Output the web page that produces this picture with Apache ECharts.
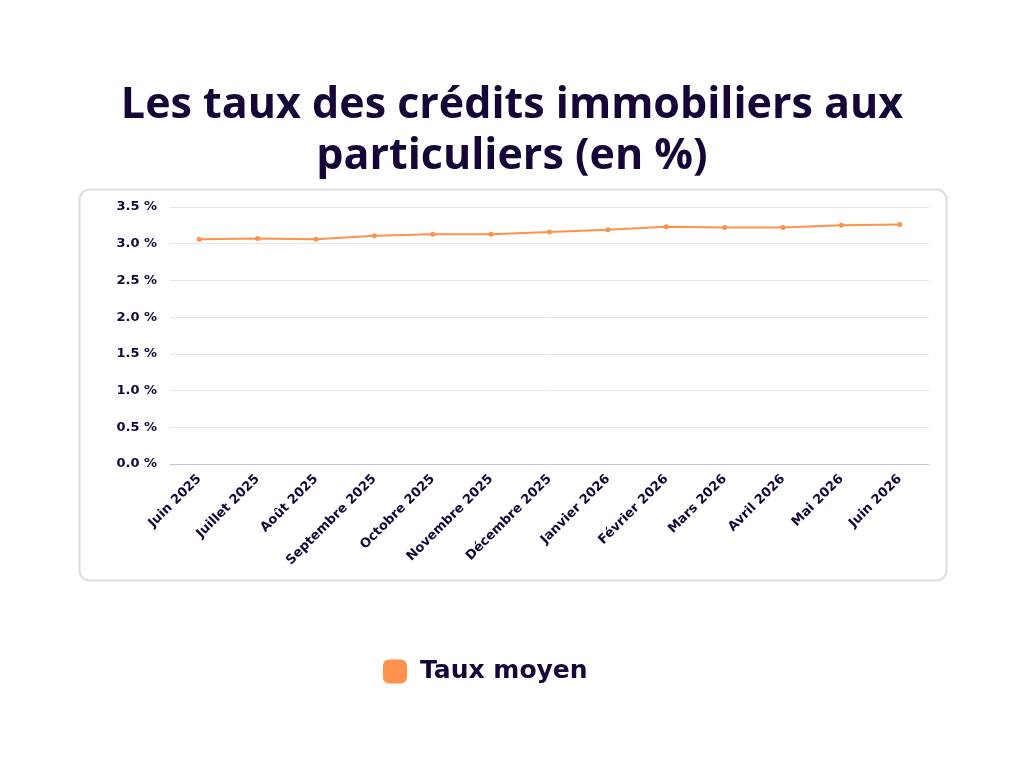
<!DOCTYPE html>
<html>
<head>
<meta charset="utf-8">
<script src="https://cdn.jsdelivr.net/npm/echarts@6/dist/echarts.min.js"></script>
<style>
  html, body { margin: 0; padding: 0; background: #fff; }
  #chart { width: 1024px; height: 768px; }
</style>
</head>
<body>
<div id="chart"></div>
<script>
// données
var mois = ["Juin 2025", "Juillet 2025", "Août 2025", "Septembre 2025", "Octobre 2025", "Novembre 2025",
  "Décembre 2025", "Janvier 2026", "Février 2026", "Mars 2026", "Avril 2026", "Mai 2026", "Juin 2026"];
var tauxMoyen = [3.06, 3.07, 3.06, 3.11, 3.13, 3.13, 3.16, 3.19, 3.23, 3.22, 3.22, 3.25, 3.26];
var nomSerie = "Taux moyen";

(function () {
  var myChart = echarts.init(document.getElementById('chart'));
  var dark = "#160537";
  var orange = "#ff914d";
  var policeTitre = "Open Sans";
  var police = "DejaVu Sans";

  var option = {
    backgroundColor: "#fff",
    title: {
      text: "Les taux des crédits immobiliers aux\nparticuliers (en %)",
      left: "center",
      top: 75,
      textStyle: {
        fontFamily: policeTitre,
        fontWeight: "bold",
        fontSize: 43,
        lineHeight: 51,
        color: dark
      }
    },
    // cadre arrondi autour du graphique
    graphic: [
      {
        type: "rect",
        left: 77,
        top: 187,
        shape: { width: 867, height: 391, r: 10 },
        style: { fill: "none", stroke: "#dddddd", lineWidth: 2 },
        silent: true,
        z: -1
      }
    ],
    legend: {
      data: [nomSerie],
      bottom: 84,
      left: 383,
      icon: "roundRect",
      itemWidth: 24,
      itemHeight: 24,
      itemGap: 12,
      padding: 0,
      textStyle: {
        fontFamily: police,
        fontWeight: "bold",
        fontSize: 25,
        color: dark,
        padding: [0, 0, 0, 8]
      }
    },
    grid: {
      left: 170,
      right: 95,
      top: 207,
      bottom: 304
    },
    xAxis: {
      type: "category",
      data: mois,
      boundaryGap: true,
      axisTick: { show: false },
      axisLine: { lineStyle: { color: "#c9c6d6", width: 1 } },
      axisLabel: {
        rotate: 45,
        interval: 0,
        margin: 13,
        fontFamily: police,
        fontWeight: "bold",
        fontSize: 13,
        color: dark
      }
    },
    yAxis: {
      type: "value",
      min: 0,
      max: 3.5,
      interval: 0.5,
      axisLine: { show: false },
      axisTick: { show: false },
      axisLabel: {
        margin: 13,
        fontFamily: police,
        fontWeight: "bold",
        fontSize: 13,
        color: dark,
        formatter: function (v) { return v.toFixed(1) + " %"; }
      },
      splitLine: { lineStyle: { color: "#e6e6ea" } }
    },
    series: [
      {
        name: nomSerie,
        type: "line",
        data: tauxMoyen,
        symbol: "circle",
        symbolSize: 5,
        showSymbol: true,
        lineStyle: { color: orange, width: 2 },
        itemStyle: { color: orange }
      }
    ]
  };

  myChart.setOption(option);
  window.addEventListener("resize", function () {
    myChart.resize();
  });
})();
</script>
</body>
</html>
